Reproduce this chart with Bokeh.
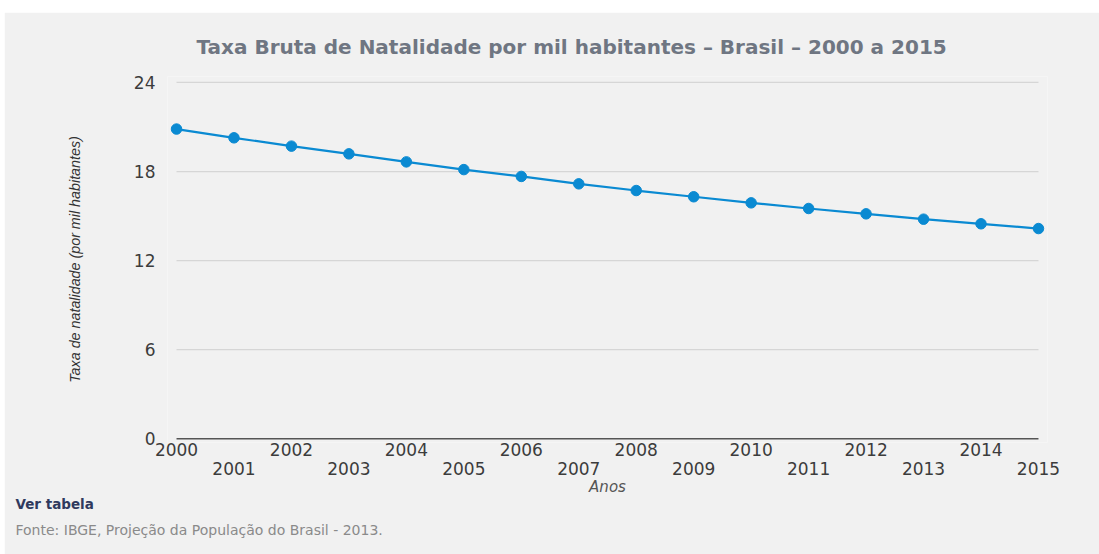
from bokeh.plotting import figure
from bokeh.models import Range1d, FixedTicker, LinearAxis, Title, NumeralTickFormatter
from bokeh.embed import file_html
from bokeh.resources import INLINE

years = list(range(2000, 2016))
taxa = [20.86, 20.27, 19.71, 19.19, 18.65, 18.13, 17.67, 17.17,
        16.72, 16.30, 15.89, 15.51, 15.15, 14.79, 14.48, 14.16]
y_ticks = [0, 6, 12, 18, 24]
grid_vals = [6, 12, 18, 24]
even_years = [y for y in years if y % 2 == 0]
odd_years = [y for y in years if y % 2 == 1]

title_text = "Taxa Bruta de Natalidade por mil habitantes \u2013 Brasil \u2013 2000 a 2015"
y_label = "Taxa de natalidade (por mil habitantes)"
x_label = "Anos"
link_text = "Ver tabela"
source_text = "Fonte: IBGE, Proje\u00e7\u00e3o da Popula\u00e7\u00e3o do Brasil - 2013."

BG = "#f1f1f1"
BLUE = "#0a8ad2"
FONT = "DejaVu Sans"

p = figure(width=1095, height=542, output_backend="svg", toolbar_location=None,
           x_range=Range1d(2000 - 0.157, 2015 + 0.157), y_range=Range1d(-0.25, 24.4),
           x_axis_location=None, min_border_left=163, min_border_right=52,
           min_border_top=64, min_border_bottom=112)
p.styles = {"margin-top": "12px", "margin-left": "4px"}
p.background_fill_color = BG
p.border_fill_color = BG
p.outline_line_color = None
p.xgrid.visible = False
p.ygrid.visible = False

# grid lines and baseline
p.segment(x0=[years[0]] * len(grid_vals), x1=[years[-1]] * len(grid_vals),
          y0=grid_vals, y1=grid_vals, line_color="#d6d6d6", line_width=1.2)
p.segment(x0=[years[0]], x1=[years[-1]], y0=[0], y1=[0], line_color="#555555", line_width=1.5)

p.line(years, taxa, line_color=BLUE, line_width=2.2)
p.scatter(years, taxa, size=10.5, fill_color=BLUE, line_color=BLUE)

# y axis
ya = p.yaxis[0]
ya.ticker = FixedTicker(ticks=y_ticks)
ya.axis_line_color = None
ya.major_tick_line_color = None
ya.minor_tick_line_color = None
ya.major_tick_out = 0
ya.major_tick_in = 0
ya.major_label_standoff = 12
ya.major_label_text_font = FONT
ya.major_label_text_font_size = "17px"
ya.major_label_text_color = "#3c3c3c"
ya.axis_label = y_label
ya.axis_label_text_font = "Liberation Sans"
ya.axis_label_text_font_style = "italic"
ya.axis_label_text_font_size = "14.3px"
ya.axis_label_text_color = "#333333"
ya.axis_label_standoff = 48

def make_x_axis(ticks, standoff, label=None):
    ax = LinearAxis(ticker=FixedTicker(ticks=ticks), formatter=NumeralTickFormatter(format="0"))
    ax.axis_line_color = None
    ax.major_tick_line_color = None
    ax.minor_tick_line_color = None
    ax.major_tick_out = 0
    ax.major_tick_in = 0
    ax.major_label_standoff = standoff
    ax.major_label_text_font = FONT
    ax.major_label_text_font_size = "17px"
    ax.major_label_text_color = "#3c3c3c"
    if label:
        ax.axis_label = label
        ax.axis_label_text_font = FONT
        ax.axis_label_text_font_style = "italic"
        ax.axis_label_text_font_size = "15px"
        ax.axis_label_text_color = "#555555"
        ax.axis_label_standoff = 0
    p.add_layout(ax, "below")
    return ax

make_x_axis(even_years, 0)
make_x_axis(odd_years, 3, x_label)

# title and footer texts
p.add_layout(Title(text=title_text, align="left", offset=29, standoff=36,
                   text_font=FONT, text_font_style="bold", text_font_size="20px",
                   text_color="#6f7682"), "above")
p.add_layout(Title(text=link_text, align="left", offset=-152, standoff=-10,
                   text_font=FONT, text_font_style="bold", text_font_size="13.5px",
                   text_color="#2f3a5e"), "below")
p.add_layout(Title(text=source_text, align="left", offset=-152, standoff=27,
                   text_font=FONT, text_font_style="normal", text_font_size="14px",
                   text_color="#8a8a8a"), "below")

open("out.html", "w").write(file_html(p, INLINE))
